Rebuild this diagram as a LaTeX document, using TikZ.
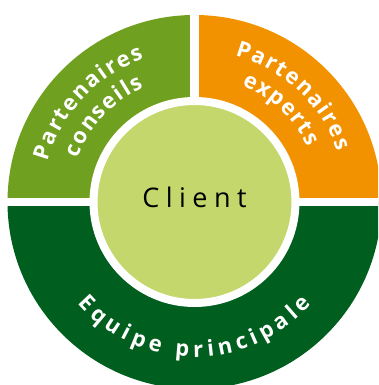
\documentclass[tikz,border=0pt]{standalone}
\usepackage{fontspec}
\setmainfont{Open Sans}
\newfontfamily\clientfont[LetterSpace=24]{Open Sans}
\usetikzlibrary{decorations.text}
\definecolor{conseilgreen}{RGB}{111,160,32}
\definecolor{expertorange}{RGB}{243,146,0}
\definecolor{equipegreen}{RGB}{0,94,30}
\definecolor{clientgreen}{RGB}{196,215,108}
\newcommand\ringfont{\fontsize{22}{22}\selectfont\bfseries}
\begin{document}
\begin{tikzpicture}[x=1pt,y=1pt]
\tikzstyle{gap} = [white, line width=8.5pt]
\tikzstyle{ring text} = [decorate, decoration={text along path, text color=white, text align={fit to path}}]
\useasboundingbox (-194.5,-183) rectangle (183.5,202);
\clip (-194.5,-183) rectangle (183.5,202);

% ring
\fill[conseilgreen] (0,0) -- (180:187) arc[start angle=180, end angle=90, radius=187] -- cycle;
\fill[expertorange] (0,0) -- (90:187) arc[start angle=90, end angle=0, radius=187] -- cycle;
\fill[equipegreen] (0,0) -- (180:187) arc[start angle=180, end angle=360, radius=187] -- cycle;
\draw[gap] (0,0) -- (0,195);
\draw[gap, line width=8pt] (-200,0) -- (200,0);

% centre
\node[circle, fill=clientgreen, draw=white, line width=8pt, minimum size=202pt,
  inner sep=0pt, text depth=10pt, font=\clientfont\fontsize{27}{27}\selectfont] (client) at (0,0) {Client};

% labels
\path[ring text, decoration={text={|\ringfont|Partenaires}}]
	(164.5:152) arc[start angle=164.5, end angle=109.5, radius=152];
\path[ring text, decoration={text={|\ringfont|conseils}}]
	(159.5:125) arc[start angle=159.5, end angle=114, radius=125];
\path[ring text, decoration={text={|\ringfont|Partenaires}}]
	(74.5:152) arc[start angle=74.5, end angle=19.5, radius=152];
\path[ring text, decoration={text={|\ringfont|experts}}]
	(68:126) arc[start angle=68, end angle=26, radius=126];
\path[ring text, decoration={text={|\ringfont|Equipe principale}}]
	(221:155) arc[start angle=221, end angle=319, radius=155];
\end{tikzpicture}
\end{document}
